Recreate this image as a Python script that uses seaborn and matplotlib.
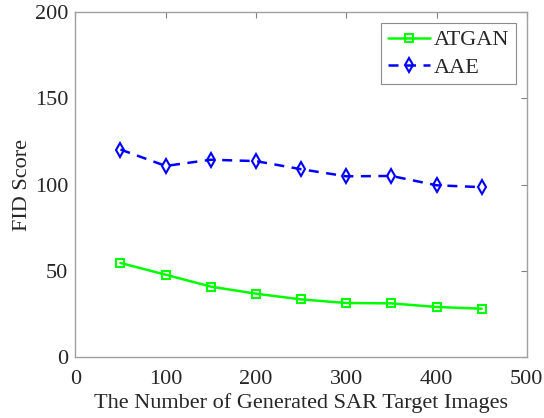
import numpy as np
import pandas as pd
import matplotlib
matplotlib.use('Agg')
import matplotlib.pyplot as plt
import seaborn as sns

# data
n_images = [50, 100, 150, 200, 250, 300, 350, 400, 450]
atgan = [54.7, 47.9, 41.0, 36.9, 33.6, 31.5, 31.3, 29.2, 28.2]
aae = [120.4, 110.9, 114.5, 113.7, 109.0, 104.9, 105.1, 99.7, 98.6]

df = pd.DataFrame({'n': n_images, 'ATGAN': atgan, 'AAE': aae})

sns.set_style('white')
plt.rcParams['font.family'] = ['Liberation Serif', 'DejaVu Serif']

fig = plt.figure(figsize=(5.44, 4.18), dpi=100)
ax = fig.add_axes([0.1385, 0.145, 0.830, 0.826])

sns.lineplot(data=df, x='n', y='ATGAN', ax=ax, color='#00ff00', lw=1.8,
             marker='s', ms=5.5, mfc='none', mec='#00ff00', mew=1.5, label='ATGAN')
sns.lineplot(data=df, x='n', y='AAE', ax=ax, color='#0000ff', lw=1.8,
             linestyle=(0, (4, 3)), marker='d', ms=7.5, mfc='none', mec='#0000ff',
             mew=1.5, label='AAE')

ax.set_xlim(0, 500)
ax.set_ylim(0, 200)
ax.set_xticks(np.arange(0, 501, 100))
ax.set_yticks(np.arange(0, 201, 50))
ax.set_xlabel('The Number of Generated SAR Target Images', fontsize=16,
              labelpad=3, color='#262626')
ax.set_ylabel('FID Score', fontsize=16, labelpad=2, color='#262626')
ax.tick_params(direction='in', length=4, width=0.8, colors='#808080',
               labelsize=16, top=True, right=True, labelcolor='#262626')
ax.tick_params(axis='x', pad=9)
ax.tick_params(axis='y', pad=5)
for s in ax.spines.values():
    s.set_color('#a0a0a0')
    s.set_linewidth(1.0)

leg = ax.legend(loc='upper right', fontsize=16, frameon=True, fancybox=False,
                handlelength=1.9, borderpad=0.3, labelspacing=0.3,
                handletextpad=0.15, borderaxespad=0.5)
leg.get_frame().set_edgecolor('#707070')
leg.get_frame().set_linewidth(0.8)

fig.savefig('out.png', dpi=100)
